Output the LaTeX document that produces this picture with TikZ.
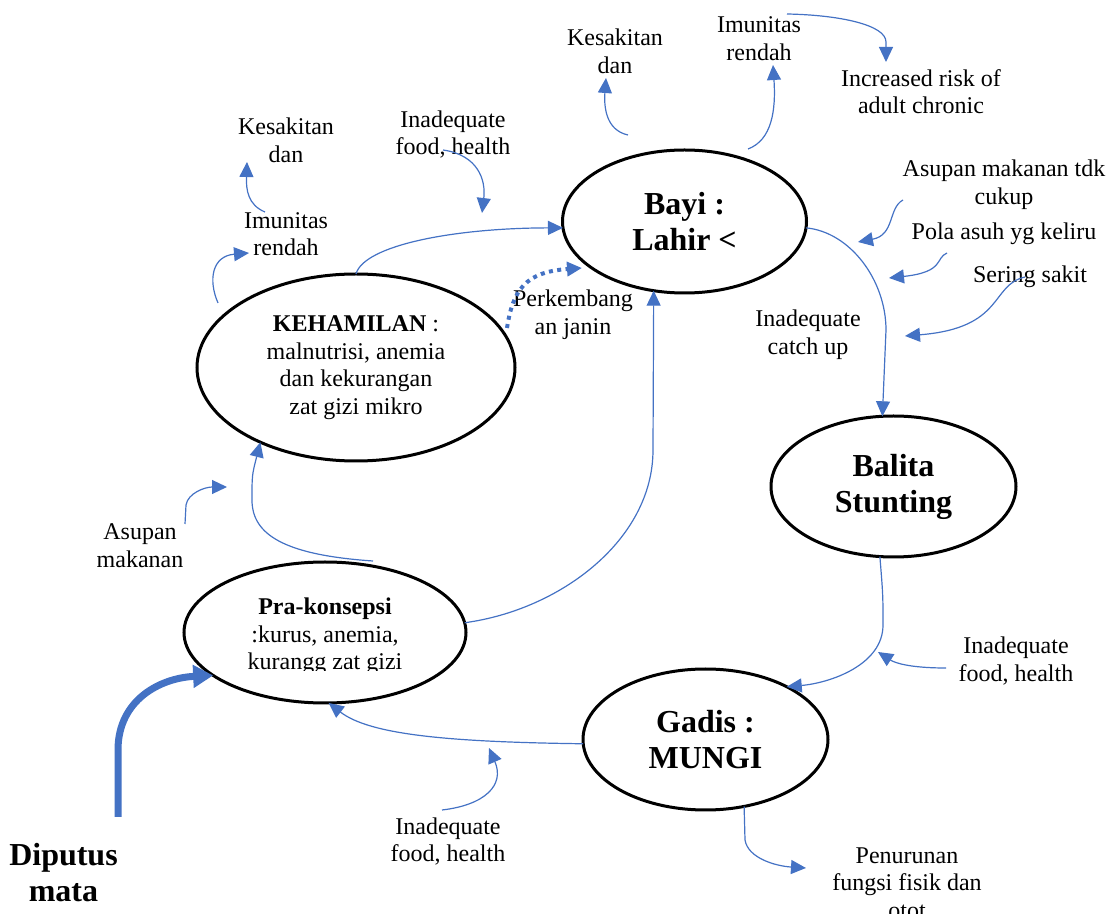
\documentclass[tikz,border=0pt]{standalone}
\usepackage{fontspec}
\setmainfont{Liberation Serif}
\usetikzlibrary{shapes.geometric,arrows.meta}
\definecolor{wordblue}{HTML}{4472C4}
\begin{document}
\begin{tikzpicture}[x=0.5pt,y=-0.5pt,
  stage/.style={ellipse,draw=black,line width=1.5pt,inner sep=0pt,outer sep=0pt,align=center},
  big/.style={font=\fontsize{16}{18}\selectfont\bfseries},
  mid/.style={font=\fontsize{12}{13.8}\selectfont},
  lbl/.style={font=\fontsize{12}{13.8}\selectfont,align=center,inner sep=0pt},
  link/.style={draw=wordblue,line width=0.6pt,-{Triangle[length=7.5pt,width=7pt]}},
  dotlink/.style={draw=wordblue,line width=2pt,dash pattern=on 2pt off 2.2pt,-{Triangle[length=7.5pt,width=7pt]}},
  heavy/.style={draw=wordblue,line width=3.5pt,-{Triangle[length=10pt,width=11pt]}}]
\useasboundingbox (0,0) rectangle (1110,914);

% life-cycle stages
\node[stage,big,minimum width=122pt,minimum height=71.5pt] (bayi) at (684.5,221.5) {Bayi :\\Lahir <};
\node[stage,mid,minimum width=159pt,minimum height=93.5pt] (keh) at (356,367.5)
  {\textbf{KEHAMILAN} :\\malnutrisi, anemia\\dan kekurangan\\zat gizi mikro};
\node[stage,big,minimum width=122.5pt,minimum height=70.5pt] (balita) at (893.5,486.5) {Balita\\Stunting};
\node[stage,big,minimum width=122.5pt,minimum height=70.5pt] (gadis) at (705.5,739.5) {Gadis :\\MUNGI};
\node[stage,minimum width=141pt,minimum height=70.5pt] (pra) at (325,632.5) {};
\begin{scope}
  \clip (200,580) rectangle (450,671);
  \node[lbl] (pratext) at (325,636.5) {\textbf{Pra-konsepsi}\\:kurus, anemia,\\kurangg zat gizi};
\end{scope}

% labels
\node[lbl] (kes1) at (615,51) {Kesakitan\\dan};
\node[lbl] (imu1) at (759,38.5) {Imunitas\\rendah};
\node[lbl] (risk) at (921,91.5) {Increased risk of\\adult chronic};
\node[lbl] (asup1) at (1004,185) {Asupan makanan tdk\\cukup};
\node[lbl] (pola) at (1004,234) {Pola asuh yg keliru};
\node[lbl] (sering) at (1030,277) {Sering sakit};
\node[lbl] (catch) at (808,334.5) {Inadequate\\catch up};
\node[lbl] (janin) at (573,315) {Perkembang\\an janin};
\node[lbl] (food1) at (453,134.5) {Inadequate\\food, health};
\node[lbl] (kes2) at (286,140.5) {Kesakitan\\dan};
\node[lbl] (imu2) at (286,234) {Imunitas\\rendah};
\node[lbl] (asup2) at (140,545.5) {Asupan\\makanan};
\node[lbl] (food2) at (1016,661) {Inadequate\\food, health};
\node[lbl] (food3) at (448,841.5) {Inadequate\\food, health};
\node[lbl] (turun) at (907,883) {Penurunan\\fungsi fisik dan\\otot};
\node[lbl,big,inner sep=0pt] (putus) at (63.5,872.5) {Diputus\\mata};

% free ends of the short arrows
\coordinate (jS) at (628,135);   \coordinate (jE) at (606,78);
\coordinate (kS) at (748,149);   \coordinate (kE) at (773,65);
\coordinate (lS) at (787,14);    \coordinate (lE) at (886,62);
\coordinate (mS) at (903,200);   \coordinate (mE) at (858,242);
\coordinate (nS) at (947,253);   \coordinate (nE) at (889,278);
\coordinate (oS) at (1025,277);  \coordinate (oE) at (905,336);
\coordinate (pS) at (443,150);   \coordinate (pE) at (482,213);
\coordinate (qS) at (265,212);   \coordinate (qE) at (247,162);
\coordinate (rS) at (218,303);   \coordinate (rE) at (249,253);
\coordinate (sS) at (185,524);   \coordinate (sE) at (227,487);
\coordinate (tS) at (946,668);   \coordinate (tE) at (878,652);
\coordinate (uS) at (442,810);   \coordinate (uE) at (489,748);
\coordinate (hE) at (806,868);
\coordinate (dS) at (373,561);
\coordinate (dotS) at (507,328); \coordinate (dotE) at (582,268);
\coordinate (thickS) at (118,817);

% main cycle
\draw[link] (keh.north) .. controls (364,245) and (455,228) .. (bayi.183);
\draw[dotlink] (dotS) .. controls (513,290) and (525,272) .. (dotE);
\draw[link] (pra.4) .. controls (560,610) and (653,540) .. (653,450) -- (bayi.246);
\draw[link] (dS) .. controls (285,555) and (252,535) .. (252,500) .. controls (252,475) .. (keh.218);
\draw[link] (gadis.182) .. controls (450,742) and (370,735) .. (pra.273);
\draw[link] (bayi.357) .. controls (850,232) and (886,280) .. (886,330) -- (balita.99);
\draw[link] (balita.259) .. controls (883,595) .. (883,625) .. controls (883,665) and (830,683) .. (gadis.33);
\draw[link] (gadis.300) -- (745,840) .. controls (748,858) and (775,866) .. (hE);
\draw[heavy] (thickS) -- (118,750) .. controls (118,700) and (160,678) .. (pra.201);

% short arrows
\draw[link] (jS) .. controls (605,130) and (604,105) .. (jE);
\draw[link] (kS) .. controls (772,140) and (776,110) .. (kE);
\draw[link] (lS) .. controls (840,15) and (886,25) .. (886,42) -- (lE);
\draw[link] (mS) .. controls (888,208) and (895,235) .. (mE);
\draw[link] (nS) .. controls (935,258) and (945,272) .. (nE);
\draw[link] (oS) .. controls (990,285) and (1005,328) .. (oE);
\draw[link] (pS) .. controls (478,155) and (486,180) .. (pE);
\draw[link] (qS) .. controls (248,205) and (246,190) .. (qE);
\draw[link] (rS) .. controls (208,280) and (212,256) .. (rE);
\draw[link] (sS) -- (186,505) .. controls (188,493) and (205,487) .. (sE);
\draw[link] (tS) .. controls (910,668) and (895,663) .. (tE);
\draw[link] (uS) .. controls (485,805) and (505,785) .. (uE);
\end{tikzpicture}
\end{document}
